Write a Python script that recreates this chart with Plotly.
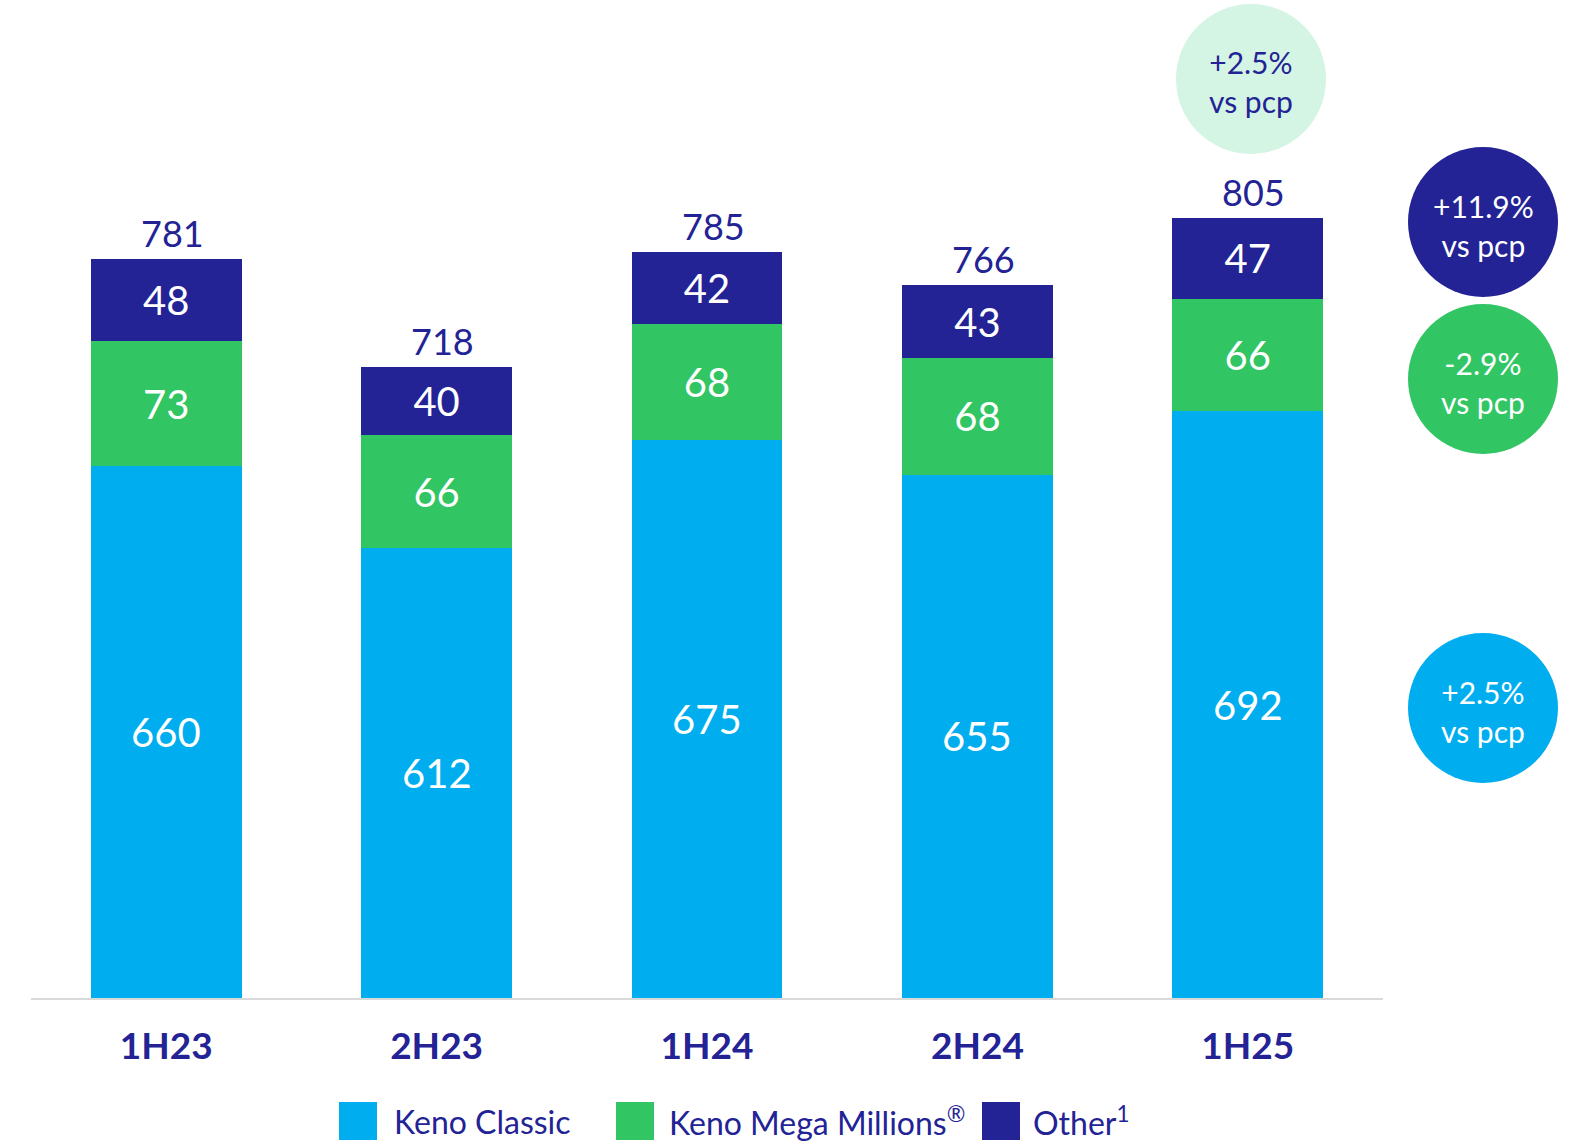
import plotly.graph_objects as go

# ---- data ----
periods = ["1H23", "2H23", "1H24", "2H24", "1H25"]
keno_classic = [660, 612, 675, 655, 692]
keno_mega = [73, 66, 68, 68, 66]
other = [48, 40, 42, 43, 47]
series_names = ["Keno Classic", "Keno Mega Millions<sup>®</sup>", "Other<sup>1</sup>"]
bubble_texts = ["+2.5%<br>vs pcp", "+11.9%<br>vs pcp", "-2.9%<br>vs pcp", "+2.5%<br>vs pcp"]

# ---- style ----
BLUE = "#00AEEF"
GREEN = "#32C564"
NAVY = "#232395"
LIGHT_GREEN = "#D4F5E3"
FONT = "Lato"

W, H = 1575, 1146
L, R, T, B = 31, 192, 0, 148
PW, PH = W - L - R, H - T - B
Y_MIN = 348.5
Y_MAX = Y_MIN + PH / 1.708


def px_x(x):
    return (x - L) / PW


def px_y(y):
    return 1 - (y - T) / PH


fig = go.Figure()
fig.add_trace(go.Bar(x=periods, y=keno_classic, name=series_names[0], marker_color=BLUE,
                     marker_line_width=0, showlegend=False))
fig.add_trace(go.Bar(x=periods, y=keno_mega, name=series_names[1], marker_color=GREEN,
                     marker_line_width=0, showlegend=False,
                     text=[str(v) for v in keno_mega], textposition="inside",
                     insidetextanchor="middle", textangle=0, constraintext="none",
                     insidetextfont=dict(family=FONT, size=40, color="white")))
fig.add_trace(go.Bar(x=periods, y=other, name=series_names[2], marker_color=NAVY,
                     marker_line_width=0, showlegend=False,
                     text=[str(v) for v in other], textposition="inside",
                     insidetextanchor="middle", textangle=0, constraintext="none",
                     insidetextfont=dict(family=FONT, size=40, color="white")))

annotations = []
# Blue labels centred in visible part of bar
for p, v in zip(periods, keno_classic):
    annotations.append(dict(x=p, y=(Y_MIN + v) / 2, xref="x", yref="y", text=str(v),
                            showarrow=False, xanchor="center", yanchor="middle",
                            font=dict(family=FONT, size=40, color="white")))
# Totals
for p, a, b, c in zip(periods, keno_classic, keno_mega, other):
    annotations.append(dict(x=p, y=a + b + c, xref="x", yref="y", text=str(a + b + c),
                            showarrow=False, xanchor="center", yanchor="bottom",
                            xshift=6, yshift=2,
                            font=dict(family=FONT, size=36, color=NAVY)))

shapes = []
# Bubbles: (center x px, center y px, fill, text color)
bubbles = [
    (1251, 79, LIGHT_GREEN, NAVY),
    (1483, 222, NAVY, "white"),
    (1483, 379, GREEN, "white"),
    (1483, 708, BLUE, "white"),
]
for (cx, cy, fill, tc), txt in zip(bubbles, bubble_texts):
    shapes.append(dict(type="circle", xref="paper", yref="paper", xsizemode="pixel",
                       ysizemode="pixel", xanchor=px_x(cx), yanchor=px_y(cy),
                       x0=-75, x1=75, y0=-75, y1=75, fillcolor=fill,
                       line=dict(width=0), layer="above"))
    annotations.append(dict(x=px_x(cx), y=px_y(cy + 3), xref="paper", yref="paper", text=txt,
                            showarrow=False, xanchor="center", yanchor="middle",
                            font=dict(family=FONT, size=30, color=tc)))

# Manual legend
legend_items = [(339, 392, BLUE), (616, 667, GREEN), (982, 1031, NAVY)]
for (sx, tx, col), name in zip(legend_items, series_names):
    shapes.append(dict(type="rect", xref="paper", yref="paper", xsizemode="pixel",
                       ysizemode="pixel", xanchor=px_x(sx), yanchor=px_y(1121),
                       x0=0, x1=38, y0=-19, y1=19, fillcolor=col, line=dict(width=0)))
    annotations.append(dict(x=px_x(tx), y=px_y(1121), xref="paper", yref="paper", text=name,
                            showarrow=False, xanchor="left", yanchor="middle",
                            font=dict(family=FONT, size=32, color=NAVY)))

fig.update_layout(
    width=W, height=H,
    margin=dict(l=L, r=R, t=T, b=B, pad=0, autoexpand=False),
    barmode="stack",
    bargap=0.443,
    plot_bgcolor="white",
    paper_bgcolor="white",
    showlegend=False,
    font=dict(family=FONT, color=NAVY),
    annotations=annotations,
    shapes=shapes,
    xaxis=dict(showgrid=False, showline=True, linecolor="#D9D9D9", linewidth=2,
               automargin=False,
               ticks="outside", ticklen=15, tickcolor="rgba(0,0,0,0)",
               tickfont=dict(family=FONT, size=37, color=NAVY, weight="bold")),
    yaxis=dict(range=[Y_MIN, Y_MAX], visible=False, showgrid=False, automargin=False),
)

fig.write_html("out.html",
               config={"displayModeBar": False},
               post_script="document.body.style.margin='0';document.body.style.overflow='hidden';")
